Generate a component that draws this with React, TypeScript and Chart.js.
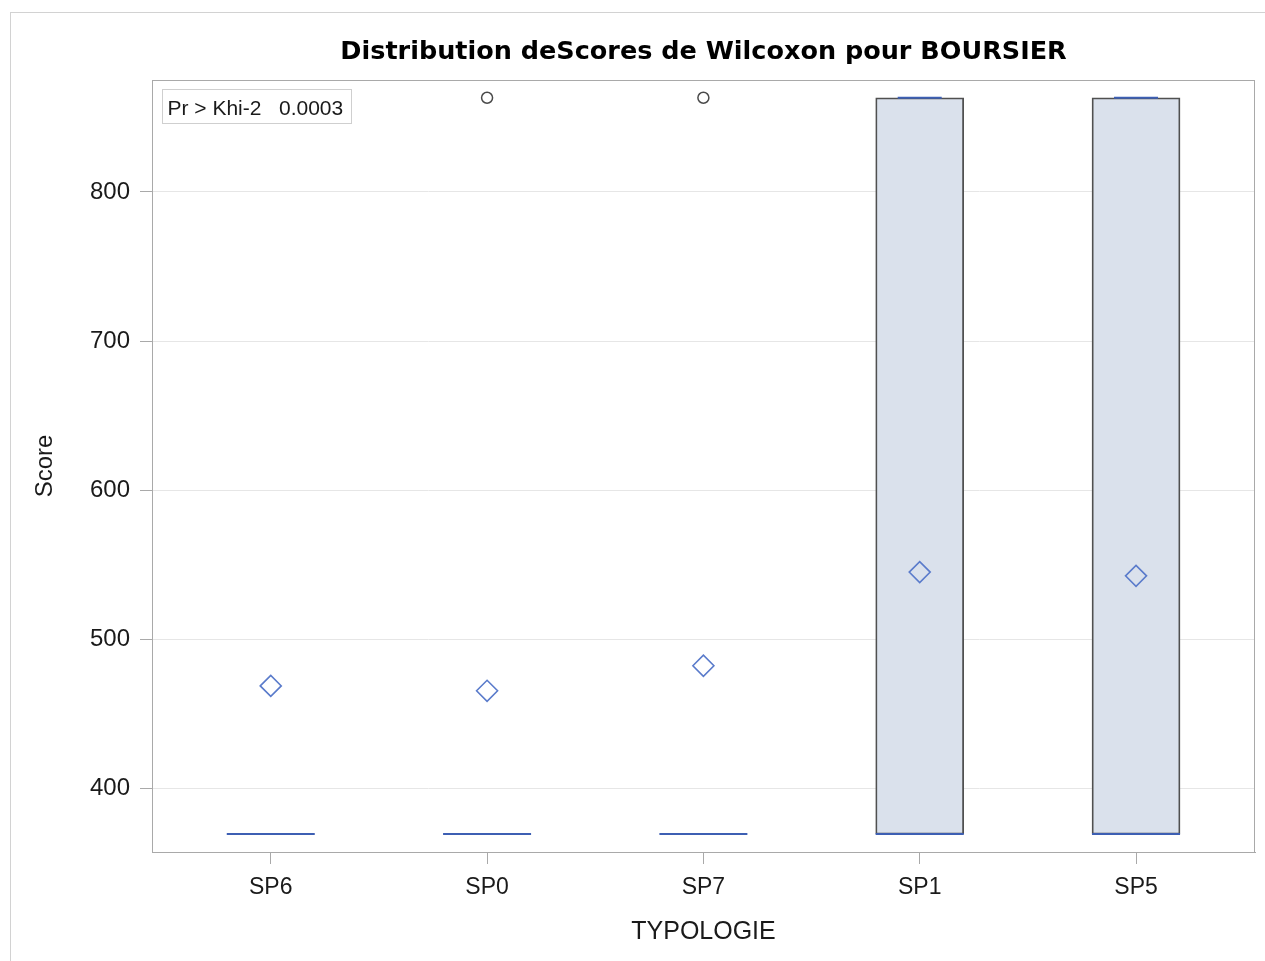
import React, { useEffect, useRef } from "react";
import { Chart, registerables } from "chart.js";

Chart.register(...registerables);

// ---- Data ----
const categories = ["SP6", "SP0", "SP7", "SP1", "SP5"];
const q1Values = [369.4, 369.4, 369.4, 369.4, 369.4];
const q3Values = [369.4, 369.4, 369.4, 863.2, 863.2];
const medianValues = [369.4, 369.4, 369.4, 369.4, 369.4];
const whiskerHigh = [369.4, 369.4, 369.4, 863.2, 863.2];
const meanValues = [468.8, 465.5, 482.3, 545.1, 542.6];
const outlierCategory = [1, 2];
const outlierValues = [863.2, 863.2];
const yTickValues = [400, 500, 600, 700, 800];
const titleText = "Distribution deScores de Wilcoxon pour BOURSIER";
const xTitle = "TYPOLOGIE";
const yTitle = "Score";
const insetText = "Pr > Khi-2   0.0003";

// ---- Styles ----
const SANS = "'Liberation Sans', Arial, sans-serif";
const BOX_PX = 88;
const AXIS_GRAY = "#a9a9a9";

const boxPlugin = {
  id: "boxExtras",
  afterDatasetsDraw(chart: any) {
    const { ctx, scales } = chart;
    const xs = scales.x;
    const ys = scales.y;
    ctx.save();
    ctx.strokeStyle = "#3d5fb3";
    ctx.lineWidth = 2;
    // whisker caps
    categories.forEach((_, i) => {
      const px = xs.getPixelForValue(i);
      const py = ys.getPixelForValue(whiskerHigh[i]);
      ctx.beginPath();
      ctx.moveTo(px - BOX_PX / 4, py);
      ctx.lineTo(px + BOX_PX / 4, py);
      ctx.stroke();
    });
    // medians
    categories.forEach((_, i) => {
      const px = xs.getPixelForValue(i);
      const py = ys.getPixelForValue(medianValues[i]);
      ctx.beginPath();
      ctx.moveTo(px - BOX_PX / 2, py);
      ctx.lineTo(px + BOX_PX / 2, py);
      ctx.stroke();
    });
    ctx.restore();
  },
  afterDraw(chart: any) {
    const { ctx, chartArea } = chart;
    ctx.save();
    // plot frame
    ctx.strokeStyle = AXIS_GRAY;
    ctx.lineWidth = 1;
    ctx.strokeRect(
      Math.round(chartArea.left) + 0.5,
      Math.round(chartArea.top) + 0.5,
      Math.round(chartArea.right - chartArea.left) - 1,
      Math.round(chartArea.bottom - chartArea.top)
    );
    // inset statistics box
    const bx = Math.round(chartArea.left) + 10.5;
    const by = Math.round(chartArea.top) + 9.5;
    ctx.strokeStyle = "#cfcfcf";
    ctx.strokeRect(bx, by, 189, 34);
    ctx.fillStyle = "#1a1a1a";
    ctx.font = `21px ${SANS}`;
    ctx.textBaseline = "middle";
    ctx.textAlign = "left";
    ctx.fillText(insetText, bx + 5, by + 19.5);
    ctx.restore();
  },
};

export default function App() {
  const ref = useRef<HTMLCanvasElement | null>(null);

  useEffect(() => {
    if (!ref.current) return;
    const chart = new Chart(ref.current, {
      type: "bar",
      data: {
        datasets: [
          {
            type: "bar",
            data: categories.map((_, i) => ({ x: i, y: [q1Values[i], q3Values[i]] })) as any,
            backgroundColor: "#dae1ec",
            borderColor: "#505050",
            borderWidth: 1.8,
            borderSkipped: false,
            barThickness: BOX_PX,
            order: 3,
          } as any,
          {
            type: "scatter",
            data: categories.map((_, i) => ({ x: i, y: meanValues[i] })),
            pointStyle: "rectRot",
            pointRadius: 10.5,
            pointBorderWidth: 1.6,
            pointBorderColor: "#5a7bcb",
            pointBackgroundColor: "rgba(0,0,0,0)",
            showLine: false,
            order: 1,
          } as any,
          {
            type: "scatter",
            data: outlierCategory.map((c, i) => ({ x: c, y: outlierValues[i] })),
            pointStyle: "circle",
            pointRadius: 5.5,
            pointBorderWidth: 1.5,
            pointBorderColor: "#4a4a4a",
            pointBackgroundColor: "rgba(0,0,0,0)",
            showLine: false,
            order: 2,
          } as any,
        ],
      },
      options: {
        responsive: false,
        animation: false,
        layout: { autoPadding: false, padding: { left: 0, right: 10, top: 0, bottom: 0 } },
        plugins: {
          legend: { display: false },
          tooltip: { enabled: false },
          title: {
            display: true,
            text: titleText,
            fullSize: false,
            color: "#000",
            font: { family: "'DejaVu Sans', Verdana, sans-serif", size: 25.5, weight: "bold", lineHeight: 1.2 },
            padding: { top: 37.2, bottom: 12.2 },
          },
        },
        scales: {
          x: {
            type: "linear",
            offset: false,
            min: -0.549,
            max: 4.55,
            afterFit(scale: any) {
              scale.height = 109;
              scale.paddingLeft = 0;
              scale.paddingRight = 0;
            },
            afterBuildTicks(scale: any) {
              scale.ticks = categories.map((_, i) => ({ value: i }));
            },
            ticks: {
              callback: (v: any) => categories[Number(v)] ?? "",
              color: "#1a1a1a",
              font: { family: SANS, size: 23 },
              padding: 10,
              maxRotation: 0,
              autoSkip: false,
            },
            grid: { offset: false, drawOnChartArea: false, tickLength: 12, tickColor: AXIS_GRAY },
            border: { display: true, color: AXIS_GRAY },
            title: {
              display: true,
              text: xTitle,
              color: "#1a1a1a",
              font: { family: SANS, size: 25, lineHeight: 1.2 },
              padding: { top: 0, bottom: 14 },
            },
          },
          y: {
            type: "linear",
            min: 357.4,
            max: 875.1,
            afterFit(scale: any) {
              scale.width = 152;
              scale.paddingTop = 0;
              scale.paddingBottom = 0;
            },
            afterBuildTicks(scale: any) {
              scale.ticks = yTickValues.map((v) => ({ value: v }));
            },
            ticks: {
              color: "#1a1a1a",
              font: { family: SANS, size: 24 },
              padding: 10,
            },
            grid: { color: "#e6e6e6", tickLength: 12, tickColor: AXIS_GRAY },
            border: { display: true, color: AXIS_GRAY },
            title: {
              display: true,
              text: yTitle,
              color: "#1a1a1a",
              font: { family: SANS, size: 24, lineHeight: 1.2 },
              padding: { top: 31, bottom: 0 },
            },
          },
        },
      },
      plugins: [boxPlugin],
    });
    return () => chart.destroy();
  }, []);

  return (
    <div
      style={{
        position: "absolute",
        left: 0,
        top: 0,
        width: 1265,
        height: 961,
        overflow: "hidden",
        background: "#fff",
      }}
    >
      <div
        style={{
          position: "absolute",
          left: 10,
          top: 12,
          width: 1300,
          height: 1000,
          border: "1px solid #d2d2d2",
          boxSizing: "border-box",
        }}
      />
      <canvas
        ref={ref}
        width={1265}
        height={961}
        style={{ position: "absolute", left: 0, top: 0, width: 1265, height: 961 }}
      />
    </div>
  );
}
